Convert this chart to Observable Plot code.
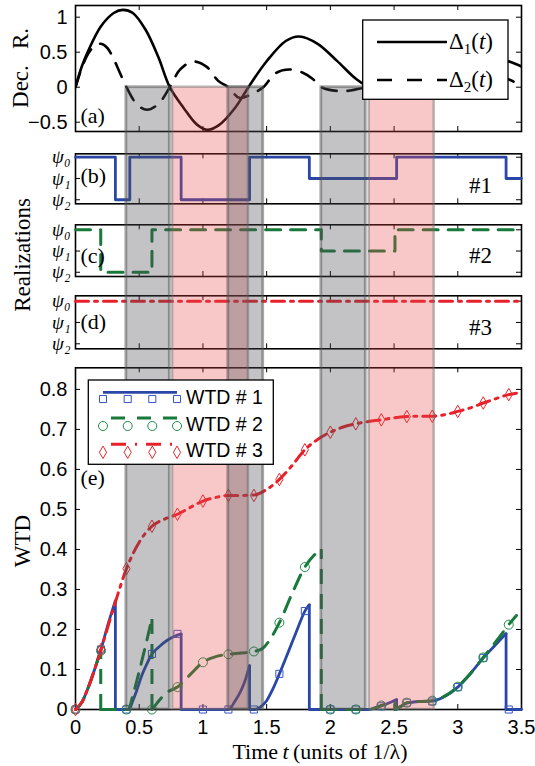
<!DOCTYPE html>
<html><head><meta charset="utf-8">
<script src="https://cdn.jsdelivr.net/npm/d3@7"></script>
<script src="https://cdn.jsdelivr.net/npm/@observablehq/plot@0.6"></script>
<style>
body{margin:0;background:#fff;}
#wrap{position:relative;width:535px;height:766px;overflow:hidden;background:#fff;}
</style></head><body><div id="wrap"></div>
<script>
// ---------------- data ----------------
const tInnerTicks = [0.5, 1, 1.5, 2, 2.5, 3];
const tLabelTicks = [0, 0.5, 1, 1.5, 2, 2.5, 3, 3.5];
const decTicks = [1, 0.5, 0, -0.5];
const psiLevels = [2, 1, 0];
const psiLabels = ["ψ₀", "ψ₁", "ψ₂"];
const wtdTicks = [0, 0.1, 0.2, 0.3, 0.4, 0.5, 0.6, 0.7, 0.8];

const delta1T = [0, 0.05, 0.1, 0.2, 0.3, 0.372, 0.45, 0.55, 0.65, 0.74, 0.85, 0.95, 1.03, 1.12, 1.25, 1.357, 1.5, 1.65, 1.755, 1.9, 2.05, 2.2, 2.3, 2.42, 2.56, 2.7, 2.815, 2.95, 3.1, 3.22, 3.32, 3.42, 3.5];
const delta1V = [0, 0.3, 0.52, 0.87, 1.06, 1.105, 1.06, 0.82, 0.43, 0, -0.3, -0.53, -0.61, -0.55, -0.3, 0, 0.37, 0.66, 0.724, 0.62, 0.38, 0.12, 0, -0.09, -0.12, -0.08, 0, 0.17, 0.34, 0.41, 0.40, 0.357, 0.296];
const delta2T = [0, 0.05, 0.1, 0.15, 0.2, 0.25, 0.3, 0.35, 0.4, 0.48, 0.56, 0.65, 0.74, 0.82, 0.923, 1.03, 1.12, 1.2, 1.285, 1.38, 1.473, 1.57, 1.675, 1.78, 1.86, 1.929, 2.09, 2.278, 2.5, 2.75, 3.0, 3.2, 3.42, 3.5];
const delta2V = [0, 0.28, 0.48, 0.59, 0.62, 0.56, 0.4, 0.2, 0, -0.24, -0.323, -0.24, 0, 0.25, 0.367, 0.29, 0.09, 0, -0.152, -0.1, 0, 0.2, 0.253, 0.21, 0.12, 0, -0.057, 0, 0.13, 0.25, 0.28, 0.22, 0.096, 0.01];

const bandStart = [0.399, 0.762, 1.199, 1.929, 2.305];
const bandEnd   = [0.740, 1.357, 1.473, 2.278, 2.815];
const bandKind  = ["grey", "pink", "grey", "grey", "pink"];

const real1Times = [0, 0.313, 0.426, 0.829, 1.366, 1.835, 2.52, 3.379];
const real1States = [0, 2, 0, 2, 0, 1, 0, 1];
const real2Times = [0, 0.198, 0.6, 1.929, 2.507];
const real2States = [0, 2, 0, 1, 0];
const real3Times = [0];
const real3States = [0];

const wtd1Segments = [
  [[0,0],[0.05,0.018],[0.1,0.055],[0.15,0.1],[0.2,0.15],[0.25,0.207],[0.313,0.272]],
  [[0.313,0],[0.42,0],[0.45,0.022],[0.48,0.047],[0.52,0.085],[0.56,0.114],[0.6,0.139],[0.65,0.155],[0.72,0.173],[0.8,0.186],[0.829,0.189]],
  [[0.829,0],[1.2,0],[1.25,0.02],[1.3,0.048],[1.335,0.076],[1.366,0.11]],
  [[1.366,0],[1.41,0],[1.45,0.006],[1.5,0.022],[1.55,0.052],[1.6,0.089],[1.65,0.128],[1.7,0.168],[1.75,0.208],[1.8,0.246],[1.835,0.262]],
  [[1.835,0],[2.3,0],[2.35,0.004],[2.4,0.009],[2.45,0.015],[2.52,0.025]],
  [[2.52,0],[2.56,0.009],[2.6,0.016],[2.7,0.02],[2.8,0.021],[2.9,0.033],[3.0,0.056],[3.1,0.09],[3.2,0.129],[3.3,0.163],[3.379,0.19]],
  [[3.379,0],[3.5,0]]
];
const wtd2Segments = [
  [[0,0],[0.05,0.018],[0.1,0.055],[0.15,0.1],[0.198,0.148]],
  [[0.198,0],[0.415,0],[0.45,0.035],[0.5,0.095],[0.55,0.16],[0.6,0.228]],
  [[0.6,0],[0.64,0.016],[0.68,0.031],[0.72,0.043],[0.8,0.056],[0.9,0.087],[1.0,0.118],[1.1,0.132],[1.2,0.138],[1.3,0.141],[1.4,0.145],[1.47,0.153],[1.53,0.177],[1.6,0.217],[1.7,0.29],[1.8,0.356],[1.87,0.385],[1.929,0.4]],
  [[1.929,0],[2.3,0],[2.35,0.004],[2.4,0.01],[2.45,0.014],[2.507,0.018]],
  [[2.507,0],[2.56,0.009],[2.6,0.017],[2.7,0.02],[2.8,0.022],[2.9,0.034],[3.0,0.057],[3.1,0.09],[3.2,0.13],[3.3,0.17],[3.4,0.212],[3.46,0.235]]
];
const wtd3Segments = [
  [[0,0],[0.05,0.018],[0.1,0.055],[0.15,0.1],[0.2,0.15],[0.3,0.255],[0.4,0.352],[0.5,0.418],[0.6,0.458],[0.7,0.476],[0.8,0.488],[0.9,0.505],[1.0,0.521],[1.1,0.53],[1.2,0.535],[1.3,0.535],[1.4,0.536],[1.5,0.55],[1.6,0.575],[1.7,0.61],[1.8,0.649],[1.9,0.675],[2.0,0.693],[2.1,0.706],[2.2,0.714],[2.3,0.72],[2.4,0.724],[2.5,0.729],[2.6,0.732],[2.7,0.733],[2.8,0.733],[2.9,0.737],[3.0,0.745],[3.1,0.754],[3.2,0.766],[3.3,0.777],[3.4,0.787],[3.5,0.792]]
];

const markerTimes = [0, 0.2, 0.4, 0.6, 0.8, 1.0, 1.2, 1.4, 1.6, 1.8, 2.0, 2.2, 2.4, 2.6, 2.8, 3.0, 3.2, 3.4];
const wtd1Markers = [0, 0.15, 0, 0.139, 0.189, 0, 0, 0, 0.089, 0.246, 0, 0, 0.008, 0.017, 0.02, 0.056, 0.129, 0];
const wtd2Markers = [0, 0.147, 0, 0, 0.056, 0.118, 0.138, 0.145, 0.217, 0.356, 0, 0, 0.01, 0.017, 0.022, 0.057, 0.13, 0.212];
const wtd3Markers = [0, 0.15, 0.352, 0.458, 0.488, 0.521, 0.535, 0.535, 0.575, 0.649, 0.693, 0.714, 0.724, 0.732, 0.733, 0.745, 0.766, 0.787];

// ---------------- styling / layout ----------------
const W = 535, H = 766, ML = 75, MR = 14, innerW = W - ML - MR;
const SERIF = "Liberation Serif, DejaVu Serif, serif";
const SANS = "Liberation Sans, Arial, sans-serif";
const BLUE = "#2a47a8", GREEN = "#17793a", RED = "#e8202a";
const BLUE_M = "#3556c4", GREEN_M = "#1f8c48", RED_M = "#e8262e";
const DASH_D2 = "15,11", DASH_G = "15,10", DASH_R = "13,6,3,6";

const wrap = document.getElementById("wrap");
function place(svg) {
  svg.style.background = "transparent";
  svg.style.overflow = "visible";
  const d = document.createElement("div");
  d.style.cssText = "position:absolute;left:0;top:0;";
  d.appendChild(svg);
  wrap.appendChild(d);
}
function frameTicks(xt, yt, innerH) {
  return [
    Plot.tickX(xt, {x: d => d, insetTop: innerH - 5, stroke: "#000", strokeWidth: 1}),
    Plot.tickX(xt, {x: d => d, insetBottom: innerH - 5, stroke: "#000", strokeWidth: 1}),
    Plot.tickY(yt, {y: d => d, insetRight: innerW - 5, stroke: "#000", strokeWidth: 1}),
    Plot.tickY(yt, {y: d => d, insetLeft: innerW - 5, stroke: "#000", strokeWidth: 1}),
    Plot.frame({stroke: "#000", strokeWidth: 1.6})
  ];
}
function panel(top, bottom, yDomain, marks) {
  return Plot.plot({
    width: W, height: H,
    marginLeft: ML, marginRight: MR, marginTop: top, marginBottom: H - bottom,
    x: {domain: [0, 3.5], axis: null},
    y: {domain: yDomain, axis: null},
    marks
  });
}
const labelText = (txt, dy, extra = {}) => Plot.text([txt], {text: d => d, frameAnchor: "left", textAnchor: "start", lineAnchor: "middle", dx: 5, dy, fontFamily: SERIF, fontSize: 22, fill: "#000", ...extra});
const tagText = (txt, dy) => Plot.text([txt], {text: d => d, frameAnchor: "right", textAnchor: "middle", lineAnchor: "middle", dx: -41, dy, fontFamily: SERIF, fontSize: 23, fill: "#000"});
const psiAxis = () => Plot.text(psiLevels, {y: d => d, text: (d, i) => psiLabels[i], frameAnchor: "left", textAnchor: "end", lineAnchor: "middle", dx: -5, fontFamily: SERIF, fontStyle: "italic", fontSize: 19, fill: "#000"});
const fmtDec = d => d < 0 ? "\u2212" + (-d) : String(d);
const stepData = (times, states) => {
  const d = times.map((t, i) => ({t, y: 2 - states[i]}));
  d.push({t: 3.5, y: 2 - states[states.length - 1]});
  return d;
};
const segRows = segs => segs.flatMap((s, i) => s.map(([t, v]) => ({t, v, seg: i})));
const dropRows = segs => segs.slice(0, -1).map(s => ({t: s[s.length - 1][0], v: s[s.length - 1][1]})).filter(d => d.v > 0);
const markRows = vals => markerTimes.map((t, i) => ({t, v: vals[i]}));

// ---------------- panel (a) ----------------
const d1 = delta1T.map((t, i) => ({t, v: delta1V[i]}));
const d2 = delta2T.map((t, i) => ({t, v: delta2V[i]}));
place(panel(5, 131, [-0.633, 1.167], [
  ...frameTicks(tInnerTicks, decTicks, 126),
  Plot.line(d2, {x: "t", y: "v", curve: "catmull-rom", stroke: "#000", strokeWidth: 2.6, strokeDasharray: DASH_D2, clip: true}),
  Plot.line(d1, {x: "t", y: "v", curve: "catmull-rom", stroke: "#000", strokeWidth: 2.6, clip: true}),
  Plot.text(decTicks, {y: d => d, text: fmtDec, frameAnchor: "left", textAnchor: "end", lineAnchor: "middle", dx: -8, fontFamily: SANS, fontSize: 20, fill: "#000"}),
  labelText("(a)", 47)
]));

// ---------------- panels (b)-(d) ----------------
place(panel(153.3, 203.3, [-0.19, 2.16], [
  ...frameTicks(tInnerTicks, psiLevels, 50),
  Plot.line(stepData(real1Times, real1States), {x: "t", y: "y", curve: "step-after", stroke: BLUE, strokeWidth: 2.8}),
  psiAxis(), labelText("(b)", -3), tagText("#1", 7)
]));
place(panel(224.3, 276, [-0.2, 2.236], [
  ...frameTicks(tInnerTicks, psiLevels, 51.7),
  Plot.line(stepData(real2Times, real2States), {x: "t", y: "y", curve: "step-after", stroke: GREEN, strokeWidth: 3, strokeDasharray: DASH_G}),
  psiAxis(), labelText("(c)", 5), tagText("#2", 5)
]));
place(panel(295.3, 348.3, [-0.235, 2.25], [
  ...frameTicks(tInnerTicks, psiLevels, 53),
  Plot.line(stepData(real3Times, real3States), {x: "t", y: "y", curve: "step-after", stroke: RED, strokeWidth: 3, strokeDasharray: DASH_R}),
  psiAxis(), labelText("(d)", 0), tagText("#3", 5)
]));

// ---------------- panel (e) ----------------
place(panel(367.3, 709, [0, 0.854], [
  ...frameTicks(tInnerTicks, wtdTicks, 341.7),
  Plot.line(segRows(wtd1Segments), {x: "t", y: "v", z: "seg", curve: "monotone-x", stroke: BLUE, strokeWidth: 2.8}),
  Plot.ruleX(dropRows(wtd1Segments), {x: "t", y1: 0, y2: "v", stroke: BLUE, strokeWidth: 2.8}),
  Plot.line(segRows(wtd2Segments), {x: "t", y: "v", z: "seg", curve: "monotone-x", stroke: GREEN, strokeWidth: 3, strokeDasharray: DASH_G}),
  Plot.ruleX(dropRows(wtd2Segments), {x: "t", y1: 0, y2: "v", stroke: GREEN, strokeWidth: 3, strokeDasharray: DASH_G}),
  Plot.line(segRows(wtd3Segments), {x: "t", y: "v", z: "seg", curve: "monotone-x", stroke: RED, strokeWidth: 3, strokeDasharray: DASH_R}),
  Plot.dot(markRows(wtd1Markers), {x: "t", y: "v", symbol: "square", r: 4, stroke: BLUE_M, fill: "none", strokeWidth: 1}),
  Plot.dot(markRows(wtd2Markers), {x: "t", y: "v", symbol: "circle", r: 4.5, stroke: GREEN_M, fill: "none", strokeWidth: 1}),
  Plot.dot(markRows(wtd3Markers), {x: "t", y: "v", symbol: "diamond", r: 3.8, stroke: RED_M, fill: "none", strokeWidth: 1}),
  Plot.text(wtdTicks, {y: d => d, text: d => String(d), frameAnchor: "left", textAnchor: "end", lineAnchor: "middle", dx: -8, fontFamily: SANS, fontSize: 20, fill: "#000"}),
  Plot.text(tLabelTicks, {x: d => d, text: d => String(d), frameAnchor: "bottom", textAnchor: "middle", lineAnchor: "middle", dy: 18, fontFamily: SANS, fontSize: 20, fill: "#000"}),
  labelText("(e)", -61)
]));

// ---------------- shaded bands overlay ----------------
const bands = bandStart.map((s, i) => ({x1: s, x2: bandEnd[i], kind: bandKind[i]}));
place(Plot.plot({
  width: W, height: H, marginLeft: ML, marginRight: MR, marginTop: 86.7, marginBottom: H - 709,
  x: {domain: [0, 3.5], axis: null}, y: {domain: [0, 1], axis: null},
  marks: [
    Plot.rect(bands.filter(b => b.kind === "pink"), {x1: "x1", x2: "x2", y1: 0, y2: 1, fill: "#e84a4a", fillOpacity: 0.3, stroke: "#6a6a6a", strokeOpacity: 0.45, strokeWidth: 2.5}),
    Plot.rect(bands.filter(b => b.kind === "grey"), {x1: "x1", x2: "x2", y1: 0, y2: 1, fill: "#505055", fillOpacity: 0.34, stroke: "#505050", strokeOpacity: 0.5, strokeWidth: 2.8})
  ]
}));

// ---------------- legends & titles ----------------
const ann = d3.create("svg").attr("width", W).attr("height", H)
  .style("position", "absolute").style("left", "0px").style("top", "0px");
// legend (a)
ann.append("rect").attr("x", 362.7).attr("y", 20).attr("width", 145.3).attr("height", 79.3)
  .attr("fill", "#fff").attr("stroke", "#000").attr("stroke-width", 1.3);
ann.append("line").attr("x1", 377).attr("x2", 447).attr("y1", 42).attr("y2", 42).attr("stroke", "#000").attr("stroke-width", 2.6);
ann.append("line").attr("x1", 377).attr("x2", 447).attr("y1", 80).attr("y2", 80).attr("stroke", "#000").attr("stroke-width", 2.6).attr("stroke-dasharray", "15,15");
function deltaLabel(y, sub) {
  const t = ann.append("text").attr("x", 449).attr("y", y).attr("font-family", SERIF).attr("font-size", 23);
  t.append("tspan").text("Δ");
  t.append("tspan").attr("font-size", 15).attr("dy", 5).text(sub);
  t.append("tspan").attr("dy", -5).text("(");
  t.append("tspan").attr("font-style", "italic").text("t");
  t.append("tspan").text(")");
}
deltaLabel(49, "1");
deltaLabel(87, "2");

// legend (e)
ann.append("rect").attr("x", 88.3).attr("y", 380).attr("width", 185).attr("height", 84.3)
  .attr("fill", "#fff").attr("stroke", "#000").attr("stroke-width", 1.3);
const legX = [103, 127.7, 152.3, 177];
const legRows = [
  {lineY: 392.3, markY: 399, color: BLUE, mcolor: BLUE_M, dash: null, width: 2.8, sym: d3.symbolSquare, size: 50, label: "WTD # 1", textY: 404},
  {lineY: 418, markY: 426, color: GREEN, mcolor: GREEN_M, dash: "14,12", width: 3, sym: d3.symbolCircle, size: 64, label: "WTD # 2", textY: 431},
  {lineY: 444.3, markY: 452.3, color: RED, mcolor: RED_M, dash: "15,9,2,9", width: 3, sym: d3.symbolDiamond, size: 45, label: "WTD # 3", textY: 457}
];
legRows.forEach(r => {
  const l = ann.append("line").attr("x1", 103).attr("x2", 177).attr("y1", r.lineY).attr("y2", r.lineY)
    .attr("stroke", r.color).attr("stroke-width", r.width);
  if (r.dash) l.attr("stroke-dasharray", r.dash).attr("stroke-dashoffset", -8);
  legX.forEach(x => ann.append("path").attr("d", d3.symbol(r.sym, r.size)()).attr("transform", `translate(${x},${r.markY})`)
    .attr("fill", "none").attr("stroke", r.mcolor).attr("stroke-width", 1));
  ann.append("text").attr("x", 186).attr("y", r.textY).attr("font-family", SANS).attr("font-size", 19.5).text(r.label);
});

// axis titles
function vTitle(txt, x, y) {
  ann.append("text").attr("transform", `translate(${x},${y}) rotate(-90)`).attr("text-anchor", "middle")
    .attr("dominant-baseline", "central").attr("font-family", SERIF).attr("font-size", 23).text(txt);
}
vTitle("Dec.\u2002\u2009R.", 20, 68);
vTitle("Realizations", 22, 255);
vTitle("WTD", 22, 541);
const xt = ann.append("text").attr("x", 320).attr("y", 759).attr("text-anchor", "middle").attr("font-family", SERIF).attr("font-size", 22);
xt.append("tspan").text("Time\u2009");
xt.append("tspan").attr("font-style", "italic").text("t");
xt.append("tspan").text("\u2009(units of 1/λ)");
wrap.appendChild(ann.node());
</script></body></html>
